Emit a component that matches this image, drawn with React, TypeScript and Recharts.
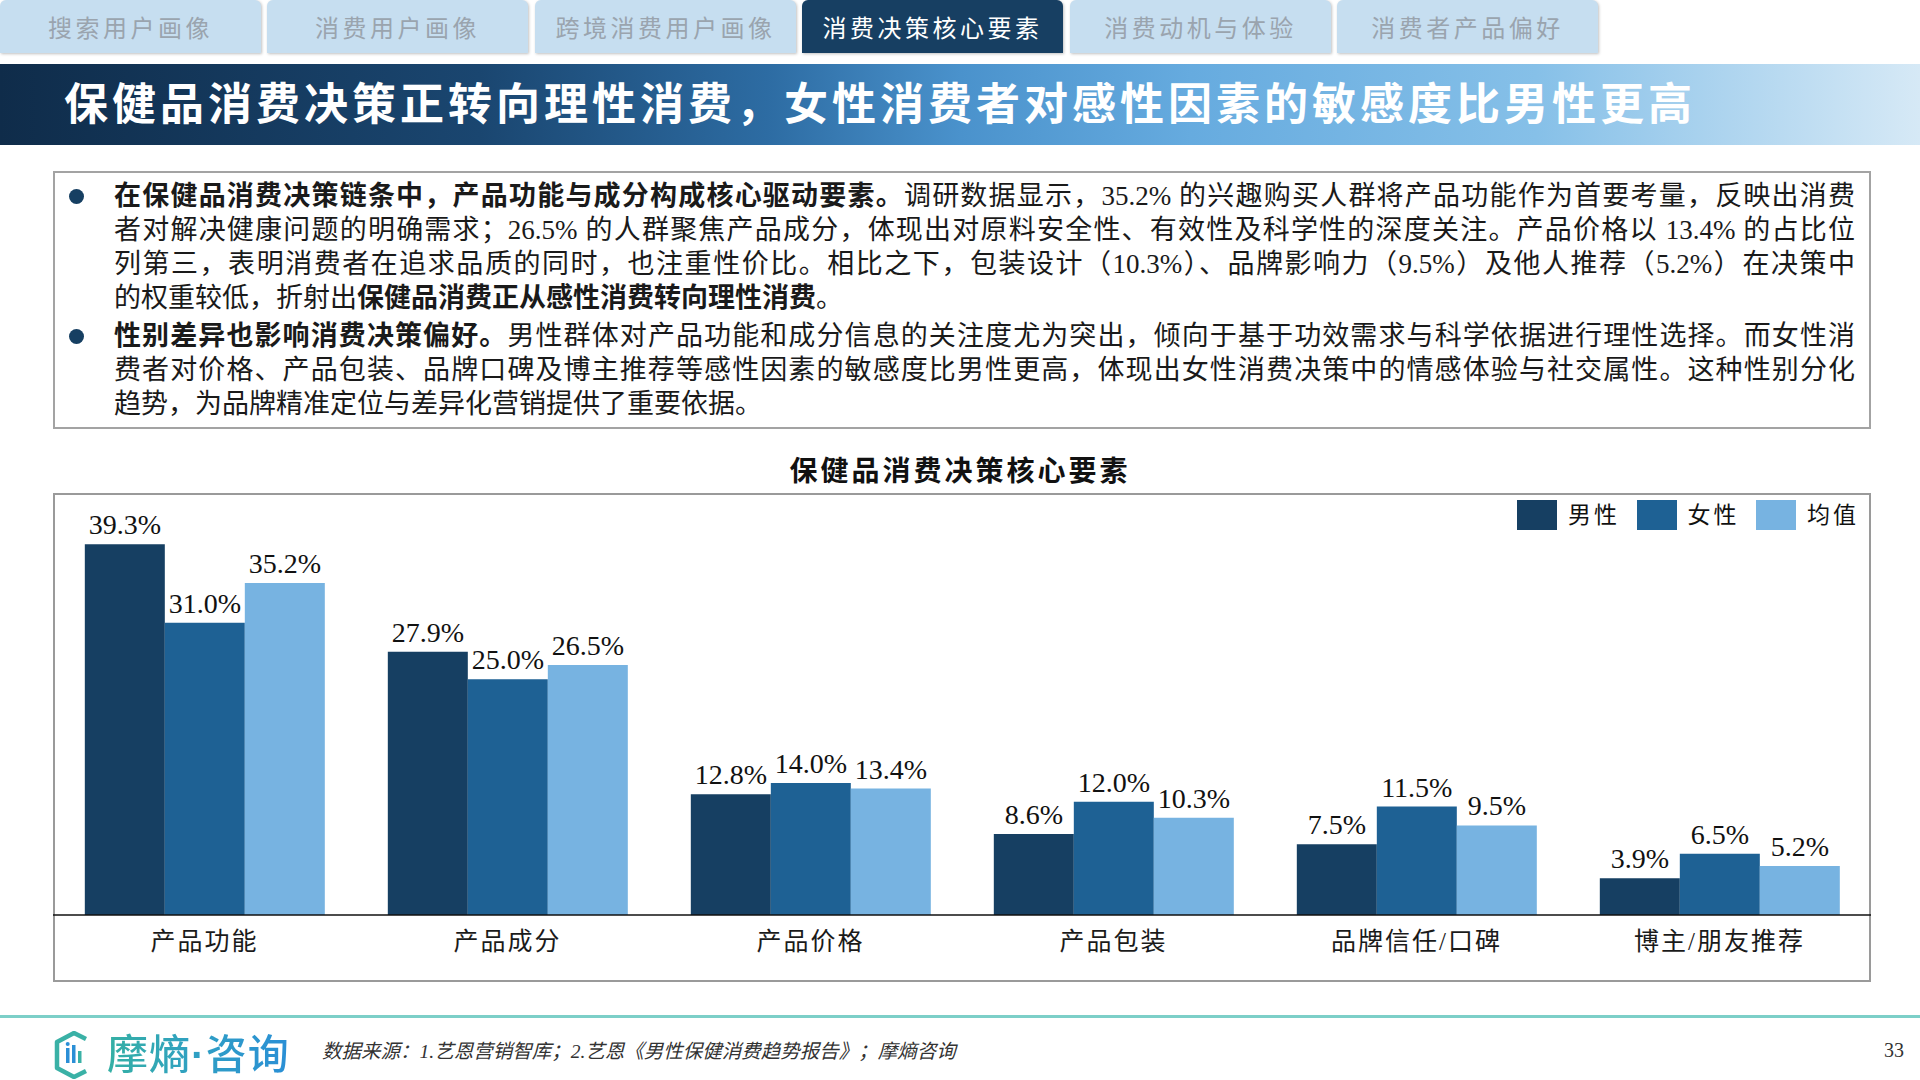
import React from 'react';
import { BarChart, Bar, XAxis, YAxis, LabelList } from 'recharts';

// ---------- data ----------
const categories = ['产品功能', '产品成分', '产品价格', '产品包装', '品牌信任/口碑', '博主/朋友推荐'];
const maleValues = [39.3, 27.9, 12.8, 8.6, 7.5, 3.9];
const femaleValues = [31.0, 25.0, 14.0, 12.0, 11.5, 6.5];
const avgValues = [35.2, 26.5, 13.4, 10.3, 9.5, 5.2];
const seriesKeys = ['male', 'female', 'avg'];
const seriesNames = ['男性', '女性', '均值'];
const seriesColors = ['#163f62', '#1e6194', '#77b3e1'];
const yDomain = [0, 45];

const tabLabels = ['搜索用户画像', '消费用户画像', '跨境消费用户画像', '消费决策核心要素', '消费动机与体验', '消费者产品偏好'];
const activeTab = 3;

const pageTitle = '保健品消费决策正转向理性消费，女性消费者对感性因素的敏感度比男性更高';
const chartTitle = '保健品消费决策核心要素';
const sourceText = '数据来源：1.艺恩营销智库；2.艺恩《男性保健消费趋势报告》；摩熵咨询';
const pageNumber = '33';

type Seg = { t: string; b?: boolean };
const paragraph1: Seg[][] = [
  [{ t: '在保健品消费决策链条中，产品功能与成分构成核心驱动要素。', b: true }, { t: '调研数据显示，35.2% 的兴趣购买人群将产品功能作为首要考量，反映出消费' }],
  [{ t: '者对解决健康问题的明确需求；26.5% 的人群聚焦产品成分，体现出对原料安全性、有效性及科学性的深度关注。产品价格以 13.4% 的占比位' }],
  [{ t: '列第三，表明消费者在追求品质的同时，也注重性价比。相比之下，包装设计（10.3%）、品牌影响力（9.5%）及他人推荐（5.2%）在决策中' }],
  [{ t: '的权重较低，折射出' }, { t: '保健品消费正从感性消费转向理性消费', b: true }, { t: '。' }],
];
const paragraph2: Seg[][] = [
  [{ t: '性别差异也影响消费决策偏好。', b: true }, { t: '男性群体对产品功能和成分信息的关注度尤为突出，倾向于基于功效需求与科学依据进行理性选择。而女性消' }],
  [{ t: '费者对价格、产品包装、品牌口碑及博主推荐等感性因素的敏感度比男性更高，体现出女性消费决策中的情感体验与社交属性。这种性别分化' }],
  [{ t: '趋势，为品牌精准定位与差异化营销提供了重要依据。' }],
];

const data = categories.map((name, i) => ({
  name,
  male: maleValues[i],
  female: femaleValues[i],
  avg: avgValues[i],
}));

const FONT = "'Liberation Serif', 'Noto Sans CJK SC', serif";

const CategoryTick = (props: any) => {
  const { x, y, payload } = props;
  return (
    <text
      x={x}
      y={y + 26}
      textAnchor="middle"
      dominantBaseline="central"
      fontSize={25}
      fill="#1a1a1a"
      fontFamily={FONT}
      style={{ letterSpacing: 2 }}
    >
      {payload.value}
    </text>
  );
};

const Paragraph = ({ lines, top }: { lines: Seg[][]; top: number }) => (
  <div style={{ position: 'absolute', left: 114, top, width: 1741 }}>
    <div
      style={{
        position: 'absolute',
        left: -45,
        top: 10,
        width: 15,
        height: 15,
        borderRadius: '50%',
        background: '#163f62',
      }}
    />
    {lines.map((segs, i) => (
      <div
        key={i}
        style={{
          height: 34,
          lineHeight: '34px',
          fontSize: 27,
          color: '#1a1a1a',
          textAlign: 'justify',
          textAlignLast: i === lines.length - 1 ? 'left' : 'justify',
          fontFamily: FONT,
        }}
      >
        {segs.map((s, j) => (
          <span key={j} style={{ fontWeight: s.b ? 700 : 400 }}>
            {s.t}
          </span>
        ))}
      </div>
    ))}
  </div>
);

export default function App() {
  return (
    <div
      style={{
        position: 'absolute',
        left: 0,
        top: 0,
        width: 1920,
        height: 1080,
        background: '#ffffff',
        overflow: 'hidden',
        fontFamily: FONT,
      }}
    >
      {/* tabs */}
      {tabLabels.map((t, i) => (
        <div
          key={t}
          style={{
            position: 'absolute',
            left: Math.round(i * 267.4),
            top: 0,
            width: 261,
            height: 53,
            background: i === activeTab ? '#173f62' : '#c6def0',
            borderRadius: '6px 6px 0 0',
            boxShadow: '1px 1px 3px rgba(0,0,0,0.25)',
            color: i === activeTab ? '#ffffff' : '#9aa4ae',
            fontSize: 24,
            letterSpacing: 3.5,
            lineHeight: '58px',
            textAlign: 'center',
          }}
        >
          {t}
        </div>
      ))}

      {/* title banner */}
      <div
        style={{
          position: 'absolute',
          left: 0,
          top: 64,
          width: 1920,
          height: 81,
          background:
            'linear-gradient(90deg, #0f2c4a 0%, #1a4670 25%, #2d6ca3 40%, #4a92cc 50%, #66abdf 62%, #86c0e8 80%, #d6e9f6 100%)',
        }}
      />
      <div
        style={{
          position: 'absolute',
          left: 64,
          top: 65,
          height: 81,
          lineHeight: '81px',
          fontSize: 44,
          fontWeight: 700,
          color: '#ffffff',
          letterSpacing: 4,
          whiteSpace: 'nowrap',
        }}
      >
        {pageTitle}
      </div>

      {/* text box */}
      <div
        style={{
          position: 'absolute',
          left: 53,
          top: 171,
          width: 1818,
          height: 258,
          border: '2px solid #a3a3a3',
          boxSizing: 'border-box',
        }}
      />
      <Paragraph lines={paragraph1} top={179} />
      <Paragraph lines={paragraph2} top={319} />

      {/* chart title */}
      <div
        style={{
          position: 'absolute',
          left: 0,
          width: 1920,
          top: 454,
          height: 36,
          lineHeight: '36px',
          textAlign: 'center',
          fontSize: 28,
          fontWeight: 700,
          color: '#111',
          letterSpacing: 3,
        }}
      >
        {chartTitle}
      </div>

      {/* chart box */}
      <div
        style={{
          position: 'absolute',
          left: 53,
          top: 493,
          width: 1818,
          height: 489,
          border: '2px solid #9a9a9a',
          boxSizing: 'border-box',
        }}
      />

      {/* chart */}
      <div style={{ position: 'absolute', left: 53, top: 440 }}>
        <BarChart
          width={1818}
          height={540}
          data={data}
          margin={{ top: 50.6, right: 0, left: 0, bottom: 0 }}
          barCategoryGap="10.5%"
          barGap={0}
        >
          <XAxis
            dataKey="name"
            axisLine={{ stroke: '#111', strokeWidth: 1.5 }}
            tickLine={false}
            tickSize={0}
            tickMargin={0}
            height={65}
            interval={0}
            tick={<CategoryTick />}
          />
          <YAxis hide domain={yDomain} />
          {seriesKeys.map((k, i) => (
            <Bar key={k} dataKey={k} name={seriesNames[i]} fill={seriesColors[i]} isAnimationActive={false}>
              <LabelList
                dataKey={k}
                position="top"
                offset={10}
                fill="#111"
                fontSize={28}
                fontFamily={FONT}
                formatter={(v: any) => `${Number(v).toFixed(1)}%`}
              />
            </Bar>
          ))}
        </BarChart>
      </div>

      {/* legend */}
      {seriesNames.map((n, i) => (
        <div key={n} style={{ position: 'absolute', left: 1517 + i * 119.5, top: 500, height: 30 }}>
          <div style={{ position: 'absolute', left: 0, top: 0, width: 40, height: 30, background: seriesColors[i] }} />
          <div
            style={{
              position: 'absolute',
              left: 51,
              top: 1,
              height: 30,
              lineHeight: '30px',
              fontSize: 23,
              letterSpacing: 3,
              color: '#111',
              whiteSpace: 'nowrap',
            }}
          >
            {n}
          </div>
        </div>
      ))}

      {/* footer */}
      <div style={{ position: 'absolute', left: 0, top: 1015, width: 1920, height: 3, background: '#7ccfc8' }} />
      <svg style={{ position: 'absolute', left: 52, top: 1031 }} width={44} height={48} viewBox="0 0 44 48">
        <path d="M34 8 L22 2 L5 11 L5 37 L22 46 L34 40" fill="none" stroke="#3ab1a6" strokeWidth={4.5} strokeLinejoin="round" />
        <rect x={14} y={17} width={3.5} height={15} fill="#2b8fd6" />
        <rect x={20} y={14} width={3.5} height={18} fill="#2b8fd6" />
        <rect x={26} y={20} width={3.5} height={12} fill="#3ab1a6" />
        <circle cx={15.7} cy={13} r={2} fill="#2b8fd6" />
      </svg>
      <div
        style={{
          position: 'absolute',
          left: 107,
          top: 1027,
          height: 48,
          lineHeight: '48px',
          fontSize: 41,
          letterSpacing: 1,
          fontFamily: "'Noto Sans CJK SC', sans-serif",
          fontWeight: 500,
          background: 'linear-gradient(90deg, #35b0a4 0%, #2f9fc4 50%, #2a8fd6 100%)',
          WebkitBackgroundClip: 'text',
          backgroundClip: 'text',
          color: 'transparent',
          whiteSpace: 'nowrap',
        }}
      >
        摩熵<span style={{ fontFamily: "'Liberation Sans', sans-serif", fontWeight: 700 }}>·</span>咨询
      </div>
      <div
        style={{
          position: 'absolute',
          left: 322,
          top: 1039,
          height: 26,
          lineHeight: '26px',
          fontSize: 19.5,
          fontStyle: 'italic',
          color: '#333',
          whiteSpace: 'nowrap',
        }}
      >
        {sourceText}
      </div>
      <div
        style={{
          position: 'absolute',
          left: 1884,
          top: 1038,
          height: 24,
          lineHeight: '24px',
          fontSize: 20,
          color: '#333',
        }}
      >
        {pageNumber}
      </div>
    </div>
  );
}
